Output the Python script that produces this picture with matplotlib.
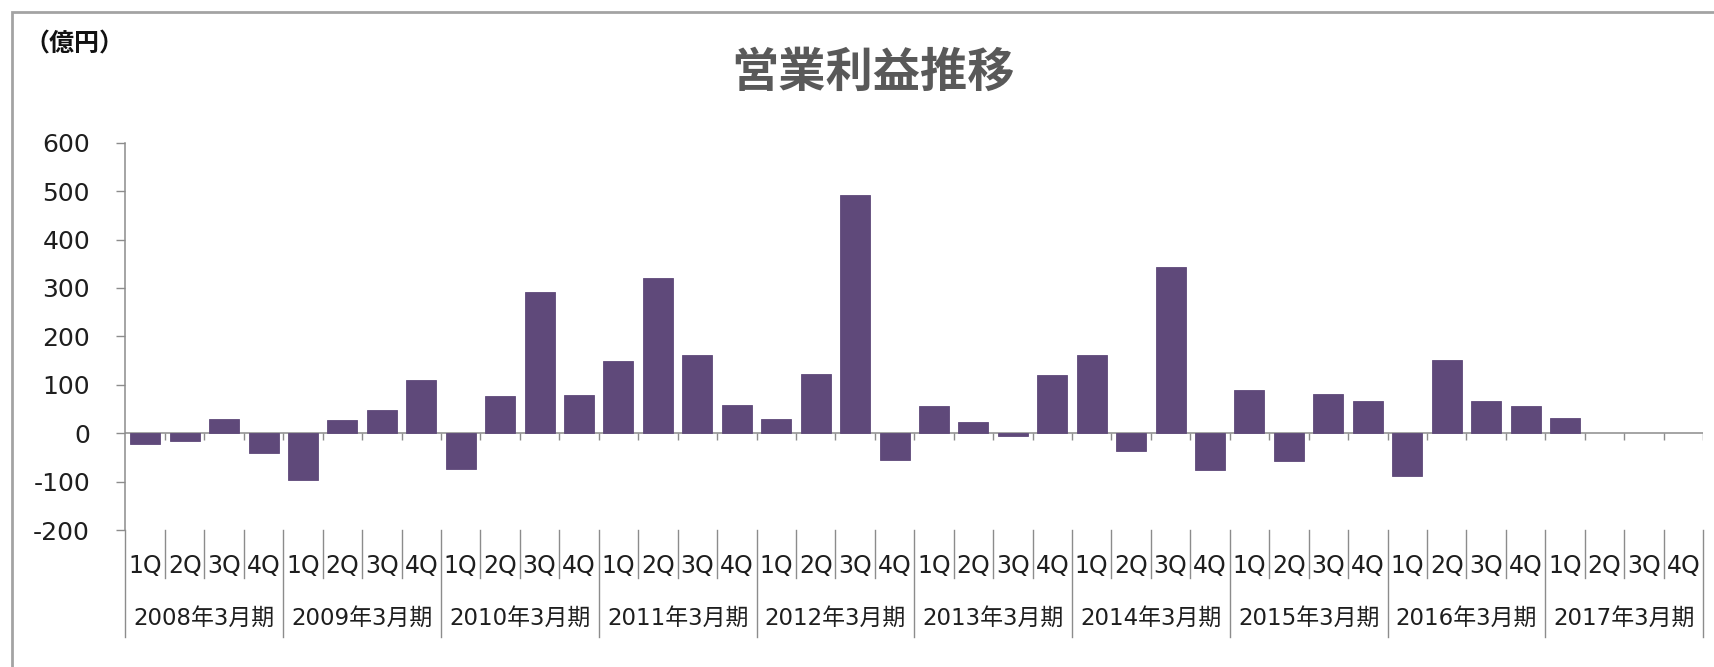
import numpy as np
import matplotlib.pyplot as plt
from matplotlib.patches import Rectangle
import matplotlib.transforms as mtransforms

# 営業利益 (億円), quarterly, fiscal years ending March
years = ['2008年3月期', '2009年3月期', '2010年3月期', '2011年3月期', '2012年3月期',
         '2013年3月期', '2014年3月期', '2015年3月期', '2016年3月期', '2017年3月期']
quarters = ['1Q', '2Q', '3Q', '4Q']
profit = [
    -22, -17, 29, -40,
    -97, 27, 48, 110,
    -73, 76, 292, 78,
    149, 321, 162, 58,
    29, 123, 492, -56,
    56, 24, -6, 120,
    162, -37, 344, -77,
    89, -58, 81, 66,
    -89, 152, 66, 56,
    32, np.nan, np.nan, np.nan,
]
y_ticks = [-200, -100, 0, 100, 200, 300, 400, 500, 600]

bar_color = '#5F497A'
line_gray = '#8C8C8C'
text_color = '#1E1E1E'
cjk = ['DejaVu Sans', 'Noto Sans CJK JP']

W, H = 1715, 667
fig = plt.figure(figsize=(W / 100, H / 100), dpi=100)
fig.patch.set_facecolor('white')

# outer chart frame (runs off the right and bottom edges)
fig.patches.append(Rectangle((12 / W, -0.2), 1.2, 1.2 - 12 / H,
                             transform=fig.transFigure, fill=False,
                             edgecolor='#A3A3A3', linewidth=2.0))

ax = fig.add_axes([125.5 / W, 1 - 530 / H, (1703 - 125.5) / W, (530 - 142.7) / H])

n = len(profit)
vals = np.array(profit, dtype=float)
xc = np.arange(n) + 0.5
ok = ~np.isnan(vals)
ax.bar(xc[ok], vals[ok], width=0.76, color=bar_color, edgecolor=bar_color,
       linewidth=0.6, zorder=3)

ax.set_xlim(0, n)
ax.set_ylim(y_ticks[0], y_ticks[-1])
ax.set_yticks(y_ticks)
ax.set_yticklabels([str(v) for v in y_ticks], fontsize=18, color=text_color,
                   family='DejaVu Sans')
ax.tick_params(axis='y', length=6.5, width=1, color=line_gray, pad=19)
ax.set_xticks([])

for s in ['top', 'right', 'bottom']:
    ax.spines[s].set_visible(False)
ax.spines['left'].set_color(line_gray)
ax.spines['left'].set_linewidth(1.1)

# horizontal axis crossing at zero, with tick marks between categories
ax.axhline(0, color=line_gray, linewidth=1.1, zorder=2)
tick_len = 7 * (y_ticks[-1] - y_ticks[0]) / (530 - 142.7)
ax.vlines(np.arange(1, n + 1), 0, -tick_len, color=line_gray, linewidth=1.0, zorder=2)

# multi-level category labels at the bottom
trans = mtransforms.blended_transform_factory(ax.transData, ax.transAxes)
nq = len(quarters)
q_bottom = -(578 - 530) / (530 - 142.7)
g_bottom = -(637 - 530) / (530 - 142.7)
for b in range(n + 1):
    y_end = g_bottom if b % nq == 0 else q_bottom
    ax.plot([b, b], [0, y_end], transform=trans, color=line_gray,
            linewidth=1.0, clip_on=False)

q_base = -(573 - 530) / (530 - 142.7)
y_base = -(625 - 530) / (530 - 142.7)
for i in range(n):
    ax.text(i + 0.5, q_base, quarters[i % nq], transform=trans, ha='center',
            va='baseline', fontsize=17, color=text_color, family='DejaVu Sans')
for g, name in enumerate(years):
    ax.text(g * nq + nq / 2, y_base, name, transform=trans, ha='center',
            va='baseline', fontsize=16.5, color=text_color, family=cjk)

fig.text(873 / W, 1 - 72.5 / H, '営業利益推移', ha='center', va='center',
         fontsize=34, fontweight='bold', color='#595959', family=['Noto Sans CJK JP'])
fig.text(24 / W, 1 - 45 / H, '（億円）', ha='left', va='center',
         fontsize=18, fontweight='bold', color='#111111', family=['Noto Sans CJK JP'])

fig.savefig('out.png', dpi=100)
